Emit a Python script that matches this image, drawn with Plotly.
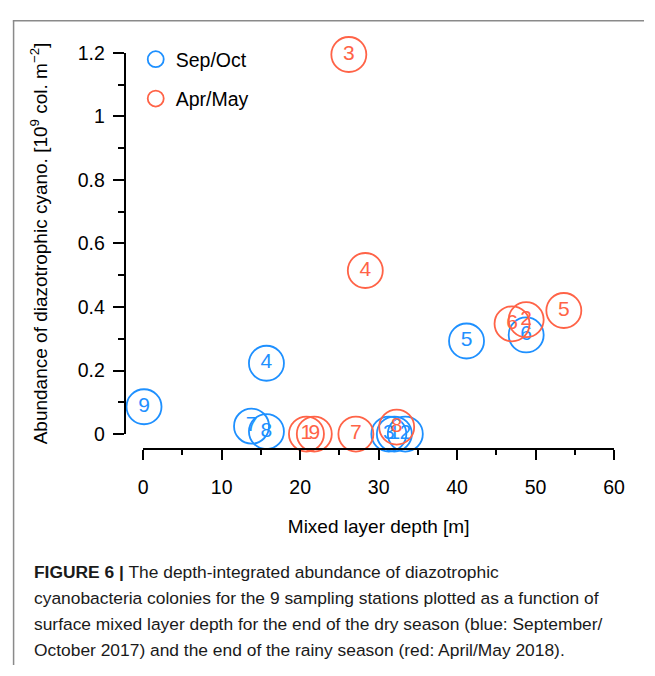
import plotly.graph_objects as go

# ---- data ----
sep_station = ["1", "2", "3", "4", "5", "6", "7", "8", "9"]
sep_depth = [32.0, 33.4, 31.3, 15.7, 41.2, 48.8, 13.8, 15.7, 0.1]
sep_abund = [0.0, 0.0, 0.0, 0.223, 0.293, 0.312, 0.025, 0.008, 0.086]

apr_station = ["1", "2", "3", "4", "5", "6", "7", "8", "9"]
apr_depth = [20.8, 48.8, 26.2, 28.3, 53.6, 47.0, 27.1, 32.3, 21.8]
apr_abund = [0.0, 0.36, 1.195, 0.515, 0.389, 0.347, 0.0, 0.022, 0.0]

y_tickvals = [0, 0.2, 0.4, 0.6, 0.8, 1.0, 1.2]
y_ticktext = ["0", "0.2", "0.4", "0.6", "0.8", "1", "1.2"]
x_tickvals = [0, 10, 20, 30, 40, 50, 60]

caption_lines = [
    "<b>FIGURE 6 |</b> The depth-integrated abundance of diazotrophic",
    "cyanobacteria colonies for the 9 sampling stations plotted as a function of",
    "surface mixed layer depth for the end of the dry season (blue: September/",
    "October 2017) and the end of the rainy season (red: April/May 2018).",
]

BLUE = "#1E90FF"
RED = "#FF6347"
FONT = "Liberation Sans, Arial, sans-serif"
W, H = 655, 676

def px(x):
    return x / W

def py(y):
    return 1 - y / H

fig = go.Figure()
for name, xs, ys, lab, col, grp in [
    ("Sep/Oct", sep_depth, sep_abund, sep_station, BLUE, "a"),
    ("Apr/May", apr_depth, apr_abund, apr_station, RED, "b"),
]:
    fig.add_trace(go.Scatter(
        x=xs, y=ys, text=lab, name=name, legendgroup=grp,
        mode="markers+text", textposition="middle center",
        textfont=dict(family=FONT, size=21, color=col),
        marker=dict(symbol="circle-open", size=35, color=col,
                    line=dict(width=1.8, color=col)),
        cliponaxis=False,
    ))

fig.update_layout(
    width=W, height=H,
    margin=dict(l=0, r=0, t=0, b=0),
    paper_bgcolor="white", plot_bgcolor="white",
    font=dict(family=FONT, size=19, color="black"),
    showlegend=True,
    legend=dict(x=px(134), y=py(30), xanchor="left", yanchor="top",
                bgcolor="rgba(0,0,0,0)", font=dict(size=19.5),
                tracegroupgap=11, itemsizing="trace"),
    xaxis=dict(
        domain=[px(141.7), px(624.3)], range=[0, 60],
        anchor="free", position=py(452.7),
        showline=True, linecolor="black", linewidth=2,
        ticks="outside", ticklen=10, tickwidth=2, tickcolor="black",
        tickvals=x_tickvals, showgrid=False, zeroline=False,
        tickfont=dict(size=19.5), ticklabelstandoff=11,
        minor=dict(dtick=5, ticks="outside", ticklen=5, tickwidth=2,
                   tickcolor="black", showgrid=False),
        title=dict(text="Mixed layer depth [m]", font=dict(size=19), standoff=21),
    ),
    yaxis=dict(
        domain=[py(437.3), py(43.3)], range=[0, 1.2],
        anchor="free", position=px(122.7),
        showline=True, linecolor="black", linewidth=2,
        ticks="outside", ticklen=11, tickwidth=2, tickcolor="black",
        tickvals=y_tickvals, ticktext=y_ticktext,
        showgrid=False, zeroline=False,
        tickfont=dict(size=19.5), ticklabelstandoff=4,
        minor=dict(dtick=0.1, ticks="outside", ticklen=6, tickwidth=2,
                   tickcolor="black", showgrid=False),
        title=dict(text="Abundance of diazotrophic cyano. [10<sup>9</sup> col. m<sup>\u22122</sup>]",
                   font=dict(size=19), standoff=24),
    ),
)

# frame of the figure panel
fig.add_shape(type="line", xref="paper", yref="paper",
              x0=px(8), y0=py(10), x1=1, y1=py(10),
              line=dict(color="#8a8a8a", width=1.5))
fig.add_shape(type="line", xref="paper", yref="paper",
              x0=px(8.8), y0=py(10), x1=px(8.8), y1=0,
              line=dict(color="#8a8a8a", width=1.5))

# caption
for i, line in enumerate(caption_lines):
    fig.add_annotation(text=line, xref="paper", yref="paper",
                       x=px(28), y=py(580 + 27 * i), xanchor="left", yanchor="middle",
                       showarrow=False, align="left",
                       font=dict(family=FONT, size=17.4, color="#1a1a1a"))

fig.write_html("out.html")
